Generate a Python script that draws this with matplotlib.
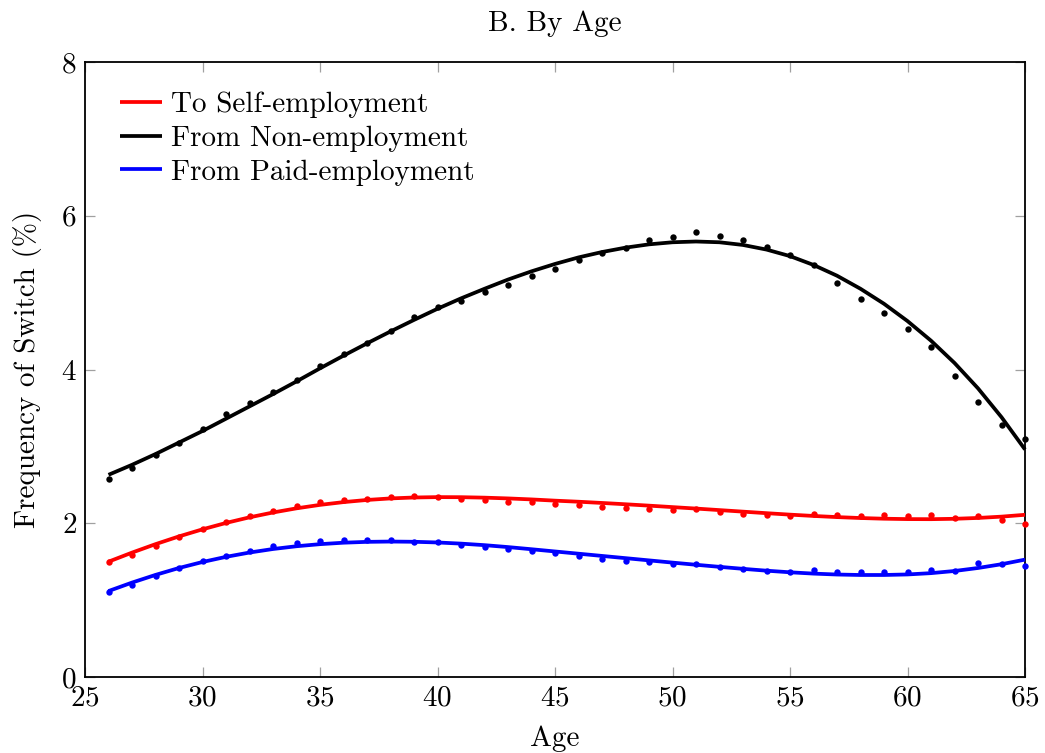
import matplotlib
matplotlib.use('Agg')
import matplotlib.pyplot as plt

ages = list(range(26, 66))

# observed frequencies (dots)
self_dots = [1.49, 1.59, 1.71, 1.82, 1.93, 2.01, 2.10, 2.16, 2.22, 2.27,
             2.30, 2.32, 2.34, 2.35, 2.34, 2.32, 2.30, 2.28, 2.27, 2.25,
             2.24, 2.21, 2.20, 2.18, 2.17, 2.18, 2.15, 2.12, 2.11, 2.09,
             2.12, 2.11, 2.10, 2.11, 2.10, 2.11, 2.07, 2.09, 2.04, 1.99]
nonemp_dots = [2.57, 2.72, 2.89, 3.05, 3.23, 3.42, 3.57, 3.71, 3.86, 4.04,
               4.20, 4.35, 4.50, 4.68, 4.81, 4.89, 5.01, 5.10, 5.22, 5.31,
               5.42, 5.51, 5.58, 5.68, 5.73, 5.79, 5.74, 5.68, 5.60, 5.49,
               5.36, 5.13, 4.92, 4.74, 4.53, 4.29, 3.91, 3.58, 3.28, 3.10]
paid_dots = [1.11, 1.20, 1.31, 1.42, 1.51, 1.57, 1.64, 1.70, 1.74, 1.77,
             1.78, 1.78, 1.78, 1.76, 1.75, 1.72, 1.69, 1.66, 1.64, 1.61,
             1.57, 1.54, 1.51, 1.49, 1.47, 1.465, 1.43, 1.40, 1.38, 1.365,
             1.395, 1.37, 1.365, 1.365, 1.365, 1.39, 1.38, 1.486, 1.465, 1.443]

# fitted curves at each age
self_fit = [1.500, 1.618, 1.728, 1.829, 1.921, 2.004, 2.077, 2.140, 2.194, 2.239,
            2.275, 2.303, 2.323, 2.335, 2.340, 2.339, 2.333, 2.323, 2.310, 2.294,
            2.280, 2.264, 2.247, 2.229, 2.210, 2.191, 2.171, 2.151, 2.131, 2.112,
            2.095, 2.080, 2.068, 2.059, 2.054, 2.053, 2.058, 2.069, 2.086, 2.110]
nonemp_fit = [2.63, 2.76, 2.90, 3.05, 3.20, 3.36, 3.52, 3.68, 3.845, 4.015,
              4.18, 4.34, 4.495, 4.645, 4.79, 4.925, 5.05, 5.17, 5.277, 5.373,
              5.458, 5.528, 5.585, 5.628, 5.655, 5.665, 5.655, 5.62, 5.56, 5.475,
              5.36, 5.22, 5.05, 4.855, 4.63, 4.375, 4.085, 3.755, 3.38, 2.96]
paid_fit = [1.118, 1.228, 1.328, 1.418, 1.496, 1.563, 1.619, 1.665, 1.701, 1.728,
            1.747, 1.758, 1.762, 1.759, 1.750, 1.735, 1.715, 1.690, 1.662, 1.633,
            1.604, 1.575, 1.546, 1.517, 1.488, 1.460, 1.433, 1.407, 1.383, 1.362,
            1.345, 1.333, 1.327, 1.327, 1.334, 1.351, 1.379, 1.418, 1.467, 1.527]

series = [
    ('To Self-employment', self_dots, self_fit, '#ff0000'),
    ('From Non-employment', nonemp_dots, nonemp_fit, '#000000'),
    ('From Paid-employment', paid_dots, paid_fit, '#0000ff'),
]

plt.rcParams['font.family'] = ['cmr10', 'DejaVu Serif']
plt.rcParams['mathtext.fontset'] = 'cm'
plt.rcParams['axes.formatter.use_mathtext'] = True
plt.rcParams['font.size'] = 21

fig = plt.figure(figsize=(10.45, 7.53), dpi=100)
ax = fig.add_axes([85 / 1045, 1 - 677 / 753, 940 / 1045, 615 / 753])

for label, dots, fit, color in series:
    ax.plot(ages, fit, color=color, lw=2.7, label=label, clip_on=False, zorder=3,
            solid_capstyle='butt')
    ax.plot(ages, dots, 'o', color=color, ms=4.6, mew=0, clip_on=False, zorder=4)

ax.set_xlim(25, 65)
ax.set_ylim(0, 8)
ax.set_xticks(range(25, 70, 5))
ax.set_yticks(range(0, 10, 2))

for s in ax.spines.values():
    s.set_linewidth(1.3)
    s.set_color('black')
ax.tick_params(direction='in', length=7, width=0.9, color='#a0a0a0',
               top=True, right=True, labelsize=21, pad=6)

ax.set_title('B. By Age', fontsize=21, pad=22)
ax.set_xlabel('Age', fontsize=21, labelpad=10)
ax.set_ylabel('Frequency of Switch (%)', fontsize=21, labelpad=14)

ax.legend(loc='upper left', frameon=False, handlelength=1.45, handletextpad=0.3,
          labelspacing=0.25, borderaxespad=0.3, bbox_to_anchor=(0.015, 0.985),
          fontsize=21)

fig.savefig('out.png', dpi=100)
